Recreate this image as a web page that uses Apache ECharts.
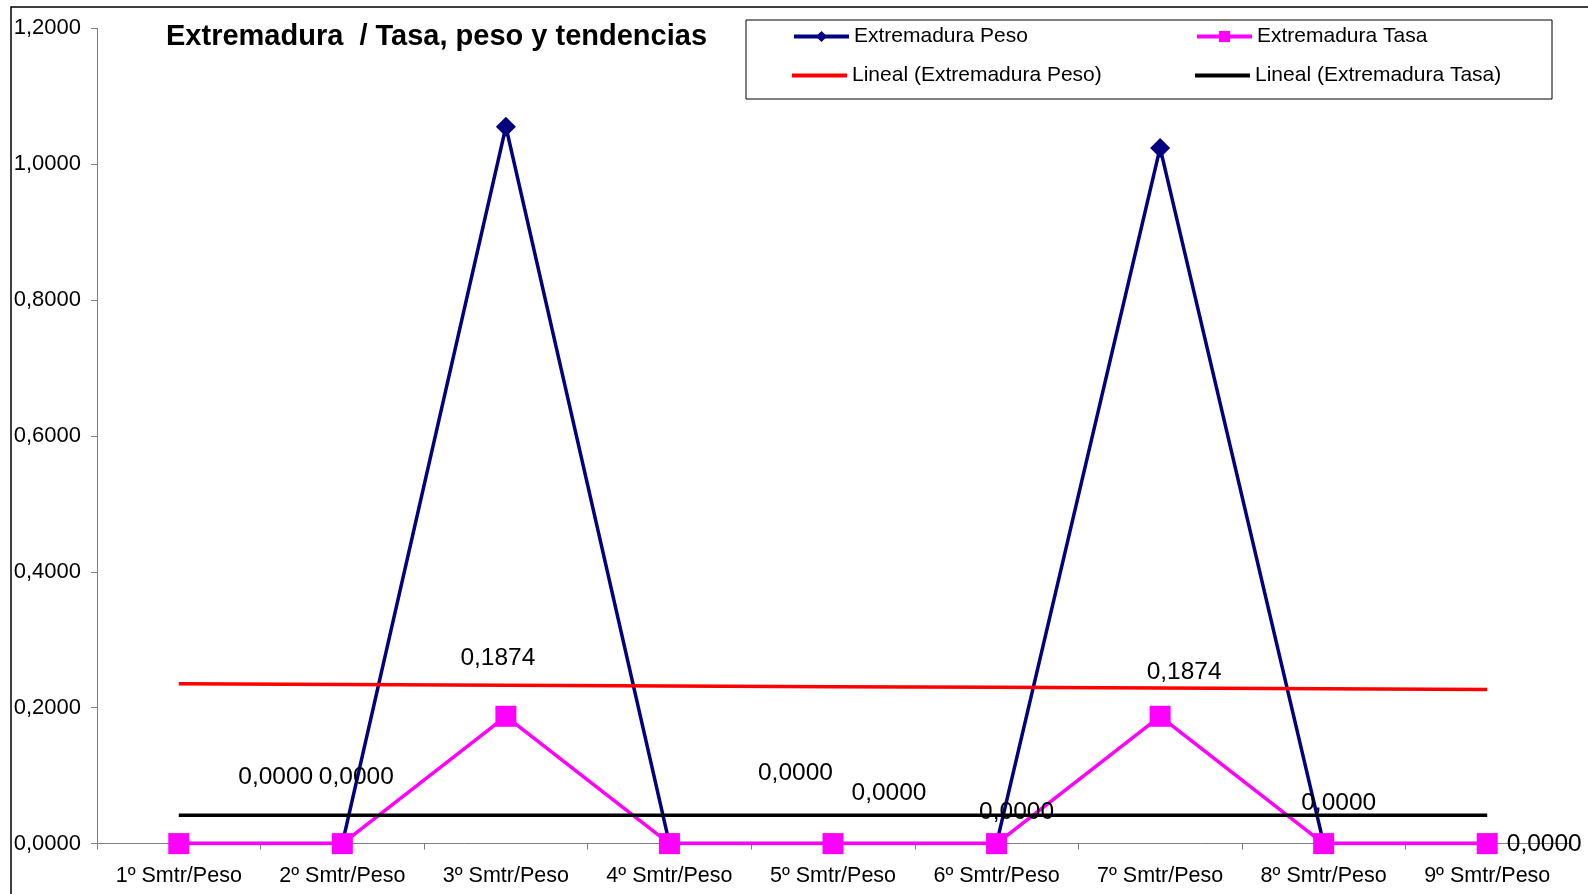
<!DOCTYPE html>
<html>
<head>
<meta charset="utf-8">
<title>Extremadura / Tasa, peso y tendencias</title>
<script src="https://cdn.jsdelivr.net/npm/echarts@6/dist/echarts.min.js"></script>
<style>
  html, body { margin: 0; padding: 0; background: #fff; }
  #chart { width: 1588px; height: 894px; }
</style>
</head>
<body>
<div id="chart"></div>
<script>
const categories = [
  "1º Smtr/Peso", "2º Smtr/Peso", "3º Smtr/Peso", "4º Smtr/Peso", "5º Smtr/Peso",
  "6º Smtr/Peso", "7º Smtr/Peso", "8º Smtr/Peso", "9º Smtr/Peso",
];
const pesoValues = [0, 0, 1.0553, 0, 0, 0, 1.0241, 0, 0];
const tasaValues = [0, 0, 0.1874, 0, 0, 0, 0.1874, 0, 0];
const yMin = 0;
const yMax = 1.2;
const yStep = 0.2;

// label placement (moved by hand in the original), offset from each point
const tasaLabelOffsets = [
  [97, -66], [14, -66], [-8, -58], [126, -70], [56, -50],
  [20, -31], [24, -44], [15, -40], [57, 1],
];

const FONT = "'Liberation Sans', Arial, sans-serif";
const fmt = (v) => Number(v).toFixed(4).replace(".", ",");

// least squares line, like Excel's "Lineal" trendline
function linearTrend(values) {
  const n = values.length;
  const xs = values.map((_, i) => i + 1);
  const mx = xs.reduce((a, b) => a + b, 0) / n;
  const my = values.reduce((a, b) => a + b, 0) / n;
  let num = 0;
  let den = 0;
  xs.forEach((x, i) => {
    num += (x - mx) * (values[i] - my);
    den += (x - mx) * (x - mx);
  });
  const slope = num / den;
  return xs.map((x) => my + slope * (x - mx));
}

const legendText = { fontFamily: FONT, fontSize: 21, color: "#000" };
const legendBase = {
  orient: "horizontal",
  itemWidth: 55,
  itemHeight: 14,
  itemGap: 5,
  padding: 0,
  textStyle: legendText,
  lineStyle: { width: 4 },
  selectedMode: false,
};
const trendLegend = { ...legendBase, itemHeight: 4, icon: "rect" };

const chart = echarts.init(document.getElementById("chart"), undefined, { renderer: "canvas" });
chart.setOption({
  animation: false,
  backgroundColor: "#fff",
  title: {
    text: "Extremadura  / Tasa, peso y tendencias",
    left: 161,
    top: 17,
    textStyle: { fontFamily: FONT, fontSize: 29, fontWeight: "bold", color: "#000" },
  },
  legend: [
    { ...legendBase, data: ["Extremadura Peso"], left: 792, top: 26 },
    { ...legendBase, data: ["Extremadura Tasa"], left: 1195, top: 26 },
    { ...trendLegend, data: ["Lineal (Extremadura Peso)"], left: 792, top: 65 },
    { ...trendLegend, data: ["Lineal (Extremadura Tasa)"], left: 1195, top: 65 },
  ],
  graphic: [
    {
      type: "rect",
      shape: { x: 11, y: 7, width: 1600, height: 900 },
      style: { fill: null, stroke: "#000", lineWidth: 1.5 },
      silent: true,
    },
    {
      type: "rect",
      shape: { x: 746, y: 20, width: 806, height: 79 },
      style: { fill: null, stroke: "#000", lineWidth: 1 },
      silent: true,
    },
  ],
  grid: { left: 97, right: 19, top: 28.4, bottom: 50.4, containLabel: false },
  xAxis: {
    type: "category",
    data: categories,
    boundaryGap: true,
    axisLine: { lineStyle: { color: "#808080", width: 1 } },
    axisTick: { show: true, length: 6, lineStyle: { color: "#808080" } },
    axisLabel: { fontFamily: FONT, fontSize: 21.5, color: "#000", margin: 21, interval: 0 },
  },
  yAxis: {
    type: "value",
    min: yMin,
    max: yMax,
    interval: yStep,
    axisLine: { show: true, lineStyle: { color: "#808080", width: 1 } },
    axisTick: { show: true, length: 6, lineStyle: { color: "#808080" } },
    axisLabel: { fontFamily: FONT, fontSize: 22, color: "#000", margin: 16, formatter: fmt },
    splitLine: { show: false },
  },
  series: [
    {
      name: "Extremadura Peso",
      type: "line",
      data: pesoValues,
      symbol: "diamond",
      symbolSize: 20,
      itemStyle: { color: "#000080" },
      lineStyle: { color: "#000080", width: 3.5 },
      z: 2,
    },
    {
      name: "Extremadura Tasa",
      type: "line",
      data: tasaValues,
      symbol: "rect",
      symbolSize: 21,
      itemStyle: { color: "#FF00FF" },
      lineStyle: { color: "#FF00FF", width: 3.5 },
      label: {
        show: true,
        position: "inside",
        formatter: (p) => fmt(p.value),
        fontFamily: FONT,
        fontSize: 24.5,
        color: "#000",
      },
      labelLayout: (params) => ({
        dx: tasaLabelOffsets[params.dataIndex][0],
        dy: tasaLabelOffsets[params.dataIndex][1],
        hideOverlap: false,
      }),
      z: 3,
    },
    {
      name: "Lineal (Extremadura Peso)",
      type: "line",
      data: linearTrend(pesoValues),
      symbol: "none",
      lineStyle: { color: "#FF0000", width: 3.5 },
      itemStyle: { color: "#FF0000" },
      z: 4,
    },
    {
      name: "Lineal (Extremadura Tasa)",
      type: "line",
      data: linearTrend(tasaValues),
      symbol: "none",
      lineStyle: { color: "#000000", width: 3.5 },
      itemStyle: { color: "#000000" },
      z: 4,
    },
  ],
});

window.addEventListener("resize", () => chart.resize());
</script>
</body>
</html>
